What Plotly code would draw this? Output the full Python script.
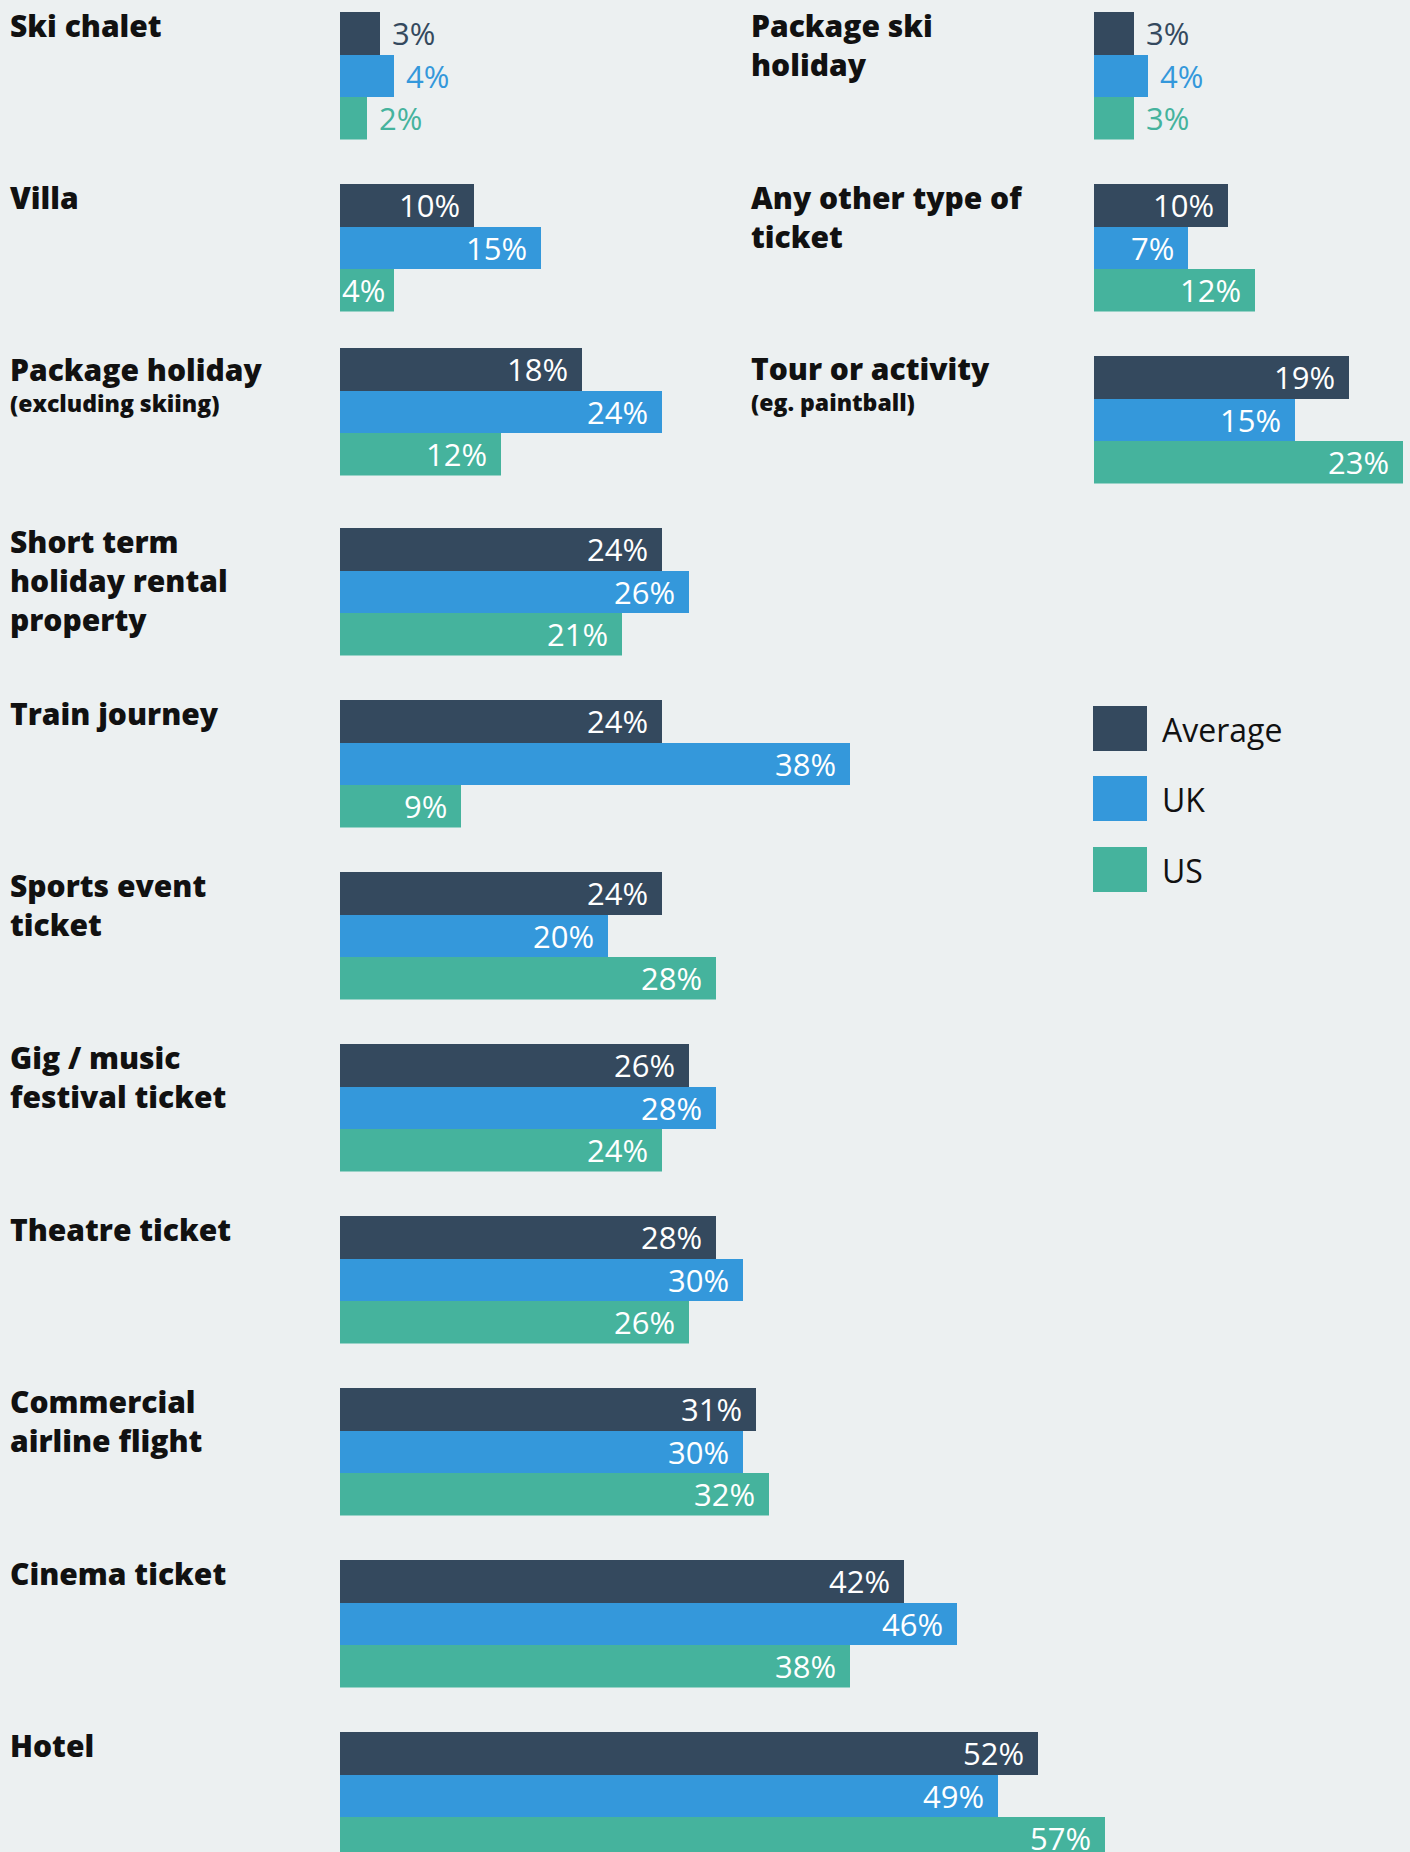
import plotly.graph_objects as go

# ---------------- data ----------------
categories = [
    "Ski chalet", "Villa", "Package holiday", "Short term holiday rental property",
    "Train journey", "Sports event ticket", "Gig / music festival ticket",
    "Theatre ticket", "Commercial airline flight", "Cinema ticket", "Hotel",
    "Package ski holiday", "Any other type of ticket", "Tour or activity",
]
subtitles = {"Package holiday": "(excluding skiing)", "Tour or activity": "(eg. paintball)"}
series_names = ["Average", "UK", "US"]
average = [3, 10, 18, 24, 24, 24, 26, 28, 31, 42, 52, 3, 10, 19]
uk = [4, 15, 24, 26, 38, 20, 28, 30, 30, 46, 49, 4, 7, 15]
us = [2, 4, 12, 21, 9, 28, 24, 26, 32, 38, 57, 3, 12, 23]

# ---------------- layout / style ----------------
W, H = 1410, 1852
BG = "#ecf0f1"
COLORS = ["#34495e", "#3498db", "#45b39d"]
PPP = 13.42              # pixels per percentage point
BAR_H = 42.5
COL_BAR_X = [340, 1094]
COL_LABEL_X = [10, 751]
GROUP_COL = [0] * 11 + [1] * 3
BAR_TOP = [12, 184, 348, 528, 700, 872, 1044, 1216, 1388, 1560, 1732, 12, 184, 356]
LABEL_BASE = [37 + 172 * i for i in range(11)] + [37, 209, 380]
WRAP = {
    "Short term holiday rental property": ["Short term", "holiday rental", "property"],
    "Sports event ticket": ["Sports event", "ticket"],
    "Gig / music festival ticket": ["Gig / music", "festival ticket"],
    "Commercial airline flight": ["Commercial", "airline flight"],
    "Package ski holiday": ["Package ski", "holiday"],
    "Any other type of ticket": ["Any other type of", "ticket"],
}
OUTSIDE = {"Ski chalet", "Package ski holiday"}
LABEL_FS = 30
SUB_FS = 23
VAL_FS = 31
LABEL_WEIGHT = 800
FONT = "Open Sans"

fig = go.Figure()
annotations = []
layout_axes = {}

def text_w(s, fs):
    w = 0
    for ch in s:
        w += 0.823 * fs if ch == "%" else 0.572 * fs
    return w

values = list(zip(average, uk, us))
for i, cat in enumerate(categories):
    k = i + 1
    xn = "x" if k == 1 else f"x{k}"
    yn = "y" if k == 1 else f"y{k}"
    col = GROUP_COL[i]
    x0 = COL_BAR_X[col]
    dom_end = 1346.5 if col == 0 else W
    xr = (dom_end - x0) / PPP
    top = BAR_TOP[i]
    bottom = top + 3 * BAR_H
    ybot = -0.5 + 3
    if bottom > H:
        ybot = -0.5 + (H - top) / BAR_H
        bottom = H
    layout_axes["xaxis" if k == 1 else f"xaxis{k}"] = dict(
        domain=[x0 / W, dom_end / W], range=[0, xr], visible=False,
        fixedrange=True, anchor=yn)
    layout_axes["yaxis" if k == 1 else f"yaxis{k}"] = dict(
        domain=[1 - bottom / H, 1 - top / H], range=[ybot, -0.5], visible=False,
        fixedrange=True, anchor=xn)
    vals = values[i]
    fig.add_trace(go.Bar(
        x=list(vals), y=[0, 1, 2], orientation="h", width=1,
        marker=dict(color=COLORS, line=dict(width=0)),
        xaxis=xn, yaxis=yn, hoverinfo="skip", showlegend=False))
    for j, v in enumerate(vals):
        t = f"{v}%"
        if cat in OUTSIDE:
            annotations.append(dict(
                x=v, y=j, xref=xn, yref=yn, text=t, showarrow=False,
                xanchor="left", yanchor="middle", xshift=12,
                font=dict(family=FONT, size=VAL_FS, color=COLORS[j]),
                borderpad=0, borderwidth=0))
        else:
            avail = v * PPP - text_w(t, VAL_FS)
            shift = min(14, max(avail - 2, 0))
            annotations.append(dict(
                x=v, y=j, xref=xn, yref=yn, text=t, showarrow=False,
                xanchor="right", yanchor="middle", xshift=-shift,
                font=dict(family=FONT, size=VAL_FS, color="white"),
                borderpad=0, borderwidth=0))
    # category label
    lines = WRAP.get(cat, [cat])
    base = LABEL_BASE[i]
    annotations.append(dict(
        x=COL_LABEL_X[col] / W, y=1 - (base - 1.069 * LABEL_FS) / H,
        xref="paper", yref="paper", text="<br>".join(lines), showarrow=False,
        xanchor="left", yanchor="top", align="left", borderpad=0, borderwidth=0,
        font=dict(family=FONT, size=LABEL_FS, color="#111111", weight=LABEL_WEIGHT)))
    if cat in subtitles:
        b = base + 31
        annotations.append(dict(
            x=COL_LABEL_X[col] / W, y=1 - (b - 0.388 * SUB_FS) / H,
            xref="paper", yref="paper", text=subtitles[cat], showarrow=False,
            xanchor="left", yanchor="middle", borderpad=0, borderwidth=0,
            font=dict(family=FONT, size=SUB_FS, color="#111111", weight=LABEL_WEIGHT)))

# legend (drawn as shapes + text)
LEG_X0, LEG_X1 = 1093, 1147
LEG_TOPS = [706, 776, 847]
LEG_SQ_H = 45
shapes = []
for j, name in enumerate(series_names):
    t = LEG_TOPS[j]
    shapes.append(dict(type="rect", xref="paper", yref="paper",
                       x0=LEG_X0 / W, x1=LEG_X1 / W,
                       y0=1 - (t + LEG_SQ_H) / H, y1=1 - t / H,
                       fillcolor=COLORS[j], line=dict(width=0)))
    annotations.append(dict(
        x=1162 / W, y=1 - (t + LEG_SQ_H / 2 + 1) / H, xref="paper", yref="paper",
        text=name, showarrow=False, xanchor="left", yanchor="middle",
        borderpad=0, borderwidth=0,
        font=dict(family=FONT, size=32, color="#111111")))

fig.update_layout(
    width=W, height=H, margin=dict(l=0, r=0, t=0, b=0),
    paper_bgcolor=BG, plot_bgcolor=BG, bargap=0, barmode="group",
    annotations=annotations, shapes=shapes, showlegend=False,
    **layout_axes)

fig.write_html("out.html", config={"displayModeBar": False})
